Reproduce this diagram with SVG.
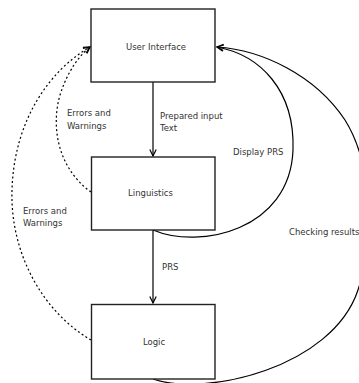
<svg xmlns="http://www.w3.org/2000/svg" width="359" height="383" viewBox="0 0 359 383">
<style>
.box{fill:#fff;stroke:#222;stroke-width:1.4}
.lbl{font-family:"DejaVu Sans",sans-serif;font-size:8.5px;fill:#333}
.c{text-anchor:middle}
.edge{fill:none;stroke:#000;stroke-width:1.2}
.dash{stroke-dasharray:2,2.5}
</style>
<defs>
<marker id="arr" viewBox="0 0 10 10" refX="9" refY="5" markerWidth="8" markerHeight="8" markerUnits="userSpaceOnUse" orient="auto">
<path d="M1,1 L9,5 L1,9" fill="none" stroke="#000" stroke-width="1.5"/>
</marker>
</defs>
<g id="connectors">
<path class="edge" d="M153,82 L153,156" marker-end="url(#arr)"/>
<path class="edge" d="M153,230 L153,303" marker-end="url(#arr)"/>
<path class="edge" d="M153,230 C200,250 290,230 293,150 C295,90 260,55 217,47" marker-end="url(#arr)"/>
<path class="edge" d="M153,379 C205,397 332,368 358,290 C377,232 370,160 345,120 C315,75 262,50 217,47" marker-end="url(#arr)"/>
<path class="edge dash" d="M91,192 C60,170 50,130 60,95 C68,70 80,55 90,47" marker-end="url(#arr)"/>
<path class="edge dash" d="M91,340 C40,310 10,250 12,190 C14,120 50,70 90,47" marker-end="url(#arr)"/>
<text class="lbl" x="160" y="119">Prepared input</text>
<text class="lbl" x="160" y="131">Text</text>
<text class="lbl" x="67" y="116">Errors and</text>
<text class="lbl" x="67" y="129">Warnings</text>
<text class="lbl" x="233" y="155">Display PRS</text>
<text class="lbl" x="23" y="214">Errors and</text>
<text class="lbl" x="23" y="226">Warnings</text>
<text class="lbl" x="289" y="235">Checking results</text>
<text class="lbl" x="162" y="270">PRS</text>
</g>
<g id="ui">
<rect class="box" x="91" y="9" width="124" height="73"/>
<text class="lbl c" x="156" y="50">User Interface</text>
</g>
<g id="linguistics">
<rect class="box" x="91.5" y="157" width="123.5" height="73"/>
<text class="lbl c" x="150.5" y="196">Linguistics</text>
</g>
<g id="logic">
<rect class="box" x="91.5" y="304.5" width="123.5" height="74.5"/>
<text class="lbl c" x="154" y="345">Logic</text>
</g>
</svg>
